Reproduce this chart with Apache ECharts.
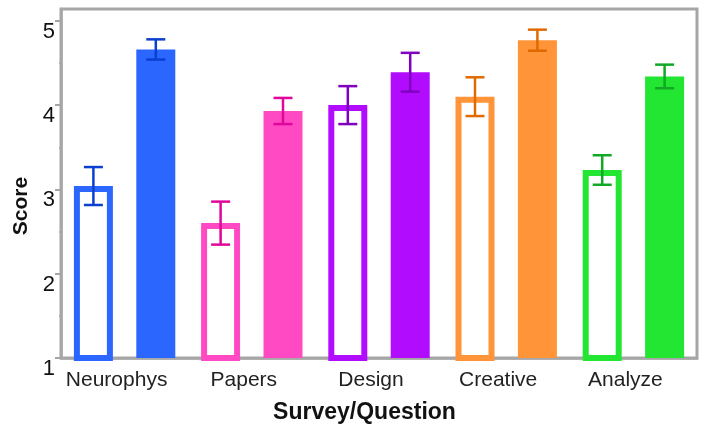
<!DOCTYPE html>
<html style='height: 100%'>
<head>
    <meta charset='utf-8'>
</head>
<body style='height: 100%; margin: 0; background: #fff'>
    <div id='container' style='height: 100%'></div>
    <script type='text/javascript' src='https://cdn.jsdelivr.net/npm/echarts@6/dist/echarts.min.js'></script>
    <script type="text/javascript">

// survey questions
var categories = ['Neurophys', 'Papers', 'Design', 'Creative', 'Analyze'];
// hollow bars (first survey) and filled bars (second survey)
var hollowMean = [3.04, 2.60, 4.00, 4.10, 3.23];
var hollowErr  = [0.225, 0.255, 0.225, 0.23, 0.175];
var filledMean = [4.66, 3.93, 4.39, 4.77, 4.34];
var filledErr  = [0.12, 0.155, 0.23, 0.125, 0.14];
var yTicks = [1, 2, 3, 4, 5];
var yMinorTicks = [1.5, 2.5, 3.5, 4.5];

var barColors = ['#2b66ff', '#ff4ac4', '#b20cff', '#ff9538', '#22e632'];
var errColors = ['#0b3fcf', '#e0069a', '#8000c0', '#e06a00', '#12a826'];

var dom = document.getElementById("container");
var myChart = echarts.init(dom);

var barW = 39;
var gap = 0.6;
var pairOffset = (barW + barW * gap) / 2;
var axisGray = '#a6a6a6';

function errorBars(sign) {
    return function(params, api) {
        var i = api.value(0);
        var m = api.value(1);
        var e = api.value(2);
        var hi = api.coord([i, m + e]);
        var lo = api.coord([i, m - e]);
        var x = hi[0] + sign * pairOffset;
        var cap = 9.5;
        var st = { stroke: errColors[i], lineWidth: 2.5 };
        return {
            type: 'group',
            children: [
                { type: 'line', shape: { x1: x, y1: hi[1], x2: x, y2: lo[1] }, style: st },
                { type: 'line', shape: { x1: x - cap, y1: hi[1], x2: x + cap, y2: hi[1] }, style: st },
                { type: 'line', shape: { x1: x - cap, y1: lo[1], x2: x + cap, y2: lo[1] }, style: st }
            ]
        };
    };
}

var hollowData = hollowMean.map(function(v, i) {
    return { value: v, itemStyle: { color: '#fff', borderColor: barColors[i], borderWidth: 6 } };
});
var filledData = filledMean.map(function(v, i) {
    return { value: v, itemStyle: { color: barColors[i] } };
});
var hollowErrData = hollowMean.map(function(v, i) { return [i, v, hollowErr[i]]; });
var filledErrData = filledMean.map(function(v, i) { return [i, v, filledErr[i]]; });

var option = {
    animation: false,
    grid: {
        left: 61, right: 8, top: 9, bottom: 73,
        show: true, borderColor: axisGray, borderWidth: 3
    },
    xAxis: {
        type: 'category',
        data: categories,
        axisLine: { lineStyle: { color: axisGray, width: 2.5 } },
        axisTick: { show: false },
        axisLabel: {
            interval: 0,
            fontFamily: 'Liberation Sans', fontSize: 21, color: '#222',
            margin: 12, padding: [0, 16, 0, 0]
        },
        name: 'Survey/Question',
        nameLocation: 'middle',
        nameGap: 43,
        nameTextStyle: {
            fontFamily: 'Liberation Sans', fontSize: 23, fontWeight: 'bold', color: '#111',
            padding: [0, 29, 0, 0]
        }
    },
    yAxis: [{
        type: 'value',
        min: 1, max: 5.14,
        splitLine: { show: false },
        axisLine: { show: true, lineStyle: { color: axisGray, width: 2.5 } },
        axisTick: { show: true, length: 6, customValues: yTicks, lineStyle: { color: axisGray, width: 2 } },
        axisLabel: {
            customValues: yTicks,
            fontFamily: 'Liberation Sans', fontSize: 22, color: '#111',
            margin: 6, verticalAlign: 'top'
        },
        name: 'Score',
        nameLocation: 'middle',
        nameGap: 26,
        nameTextStyle: {
            fontFamily: 'Liberation Sans', fontSize: 21, fontWeight: 'bold', color: '#111',
            padding: [0, 45, 0, 0]
        }
    }, {
        type: 'value',
        min: 1, max: 5.14,
        position: 'left',
        splitLine: { show: false },
        axisLine: { show: false },
        axisLabel: { show: false },
        axisTick: { show: true, length: 2, customValues: yMinorTicks, lineStyle: { color: axisGray, width: 1.5 } }
    }],
    series: [{
        type: 'bar',
        data: hollowData,
        barWidth: barW,
        barGap: (gap * 100) + '%'
    }, {
        type: 'bar',
        data: filledData,
        barWidth: barW,
        barGap: (gap * 100) + '%'
    }, {
        type: 'custom',
        data: hollowErrData,
        renderItem: errorBars(-1),
        z: 5
    }, {
        type: 'custom',
        data: filledErrData,
        renderItem: errorBars(1),
        z: 5
    }]
};

if (option && typeof option === "object") {
    myChart.setOption(option, true);
}
    </script>
</body>
</html>
